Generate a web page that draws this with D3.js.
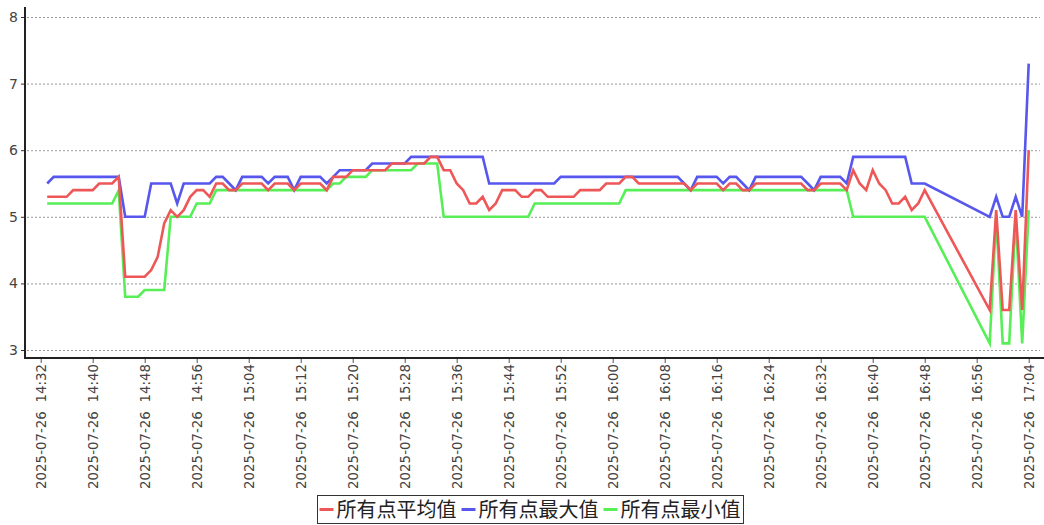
<!DOCTYPE html>
<html><head><meta charset="utf-8">
<script src="https://cdn.jsdelivr.net/npm/d3@7/dist/d3.min.js"></script>
<style>
body{margin:0;background:#fff;}
svg{display:block;}
.xlab{white-space:pre;}
</style>
</head><body>
<svg id="chart" width="1044" height="525"></svg>
<script>
const day = "2025-07-26";
const times = [
"14:33","14:34","14:35","14:36","14:37","14:38","14:39","14:40","14:41","14:42",
"14:43","14:44","14:45","14:46","14:47","14:48","14:49","14:50","14:51","14:52",
"14:53","14:54","14:55","14:56","14:57","14:58","14:59","15:00","15:01","15:02",
"15:03","15:04","15:05","15:06","15:07","15:08","15:09","15:10","15:11","15:12",
"15:13","15:14","15:15","15:16","15:17","15:18","15:19","15:20","15:21","15:22",
"15:23","15:24","15:25","15:26","15:27","15:28","15:29","15:30","15:31","15:32",
"15:33","15:34","15:35","15:36","15:37","15:38","15:39","15:40","15:41","15:42",
"15:43","15:44","15:45","15:46","15:47","15:48","15:49","15:50","15:51","15:52",
"15:53","15:54","15:55","15:56","15:57","15:58","15:59","16:00","16:01","16:02",
"16:03","16:04","16:05","16:06","16:07","16:08","16:09","16:10","16:11","16:12",
"16:13","16:14","16:15","16:16","16:17","16:18","16:19","16:20","16:21","16:22",
"16:23","16:24","16:25","16:26","16:27","16:28","16:29","16:30","16:31","16:32",
"16:33","16:34","16:35","16:36","16:37","16:38","16:39","16:40","16:41","16:42",
"16:43","16:44","16:45","16:46","16:47","16:48",
"16:58","16:59","17:00","17:01","17:02","17:03","17:04"];

const avgValues = [
5.3,5.3,5.3,5.3,5.4,5.4,5.4,5.4,5.5,5.5,
5.5,5.6,4.1,4.1,4.1,4.1,4.2,4.4,4.9,5.1,
5.0,5.1,5.3,5.4,5.4,5.3,5.5,5.5,5.4,5.4,
5.5,5.5,5.5,5.5,5.4,5.5,5.5,5.5,5.4,5.5,
5.5,5.5,5.5,5.4,5.6,5.6,5.6,5.7,5.7,5.7,
5.7,5.7,5.7,5.8,5.8,5.8,5.8,5.8,5.8,5.9,
5.9,5.7,5.7,5.5,5.4,5.2,5.2,5.3,5.1,5.2,
5.4,5.4,5.4,5.3,5.3,5.4,5.4,5.3,5.3,5.3,
5.3,5.3,5.4,5.4,5.4,5.4,5.5,5.5,5.5,5.6,
5.6,5.5,5.5,5.5,5.5,5.5,5.5,5.5,5.5,5.4,
5.5,5.5,5.5,5.5,5.4,5.5,5.5,5.4,5.4,5.5,
5.5,5.5,5.5,5.5,5.5,5.5,5.5,5.4,5.4,5.5,
5.5,5.5,5.5,5.4,5.7,5.5,5.4,5.7,5.5,5.4,
5.2,5.2,5.3,5.1,5.2,5.4,
3.6,5.1,3.6,3.6,5.1,3.6,6.0];

const maxValues = [
5.5,5.6,5.6,5.6,5.6,5.6,5.6,5.6,5.6,5.6,
5.6,5.6,5.0,5.0,5.0,5.0,5.5,5.5,5.5,5.5,
5.2,5.5,5.5,5.5,5.5,5.5,5.6,5.6,5.5,5.4,
5.6,5.6,5.6,5.6,5.5,5.6,5.6,5.6,5.4,5.6,
5.6,5.6,5.6,5.5,5.6,5.7,5.7,5.7,5.7,5.7,
5.8,5.8,5.8,5.8,5.8,5.8,5.9,5.9,5.9,5.9,
5.9,5.9,5.9,5.9,5.9,5.9,5.9,5.9,5.5,5.5,
5.5,5.5,5.5,5.5,5.5,5.5,5.5,5.5,5.5,5.6,
5.6,5.6,5.6,5.6,5.6,5.6,5.6,5.6,5.6,5.6,
5.6,5.6,5.6,5.6,5.6,5.6,5.6,5.6,5.5,5.4,
5.6,5.6,5.6,5.6,5.5,5.6,5.6,5.5,5.4,5.6,
5.6,5.6,5.6,5.6,5.6,5.6,5.6,5.5,5.4,5.6,
5.6,5.6,5.6,5.5,5.9,5.9,5.9,5.9,5.9,5.9,
5.9,5.9,5.9,5.5,5.5,5.5,
5.0,5.3,5.0,5.0,5.3,5.0,7.3];

const minValues = [
5.2,5.2,5.2,5.2,5.2,5.2,5.2,5.2,5.2,5.2,
5.2,5.4,3.8,3.8,3.8,3.9,3.9,3.9,3.9,5.0,
5.0,5.0,5.0,5.2,5.2,5.2,5.4,5.4,5.4,5.4,
5.4,5.4,5.4,5.4,5.4,5.4,5.4,5.4,5.4,5.4,
5.4,5.4,5.4,5.4,5.5,5.5,5.6,5.6,5.6,5.6,
5.7,5.7,5.7,5.7,5.7,5.7,5.7,5.8,5.8,5.8,
5.8,5.0,5.0,5.0,5.0,5.0,5.0,5.0,5.0,5.0,
5.0,5.0,5.0,5.0,5.0,5.2,5.2,5.2,5.2,5.2,
5.2,5.2,5.2,5.2,5.2,5.2,5.2,5.2,5.2,5.4,
5.4,5.4,5.4,5.4,5.4,5.4,5.4,5.4,5.4,5.4,
5.4,5.4,5.4,5.4,5.4,5.4,5.4,5.4,5.4,5.4,
5.4,5.4,5.4,5.4,5.4,5.4,5.4,5.4,5.4,5.4,
5.4,5.4,5.4,5.4,5.0,5.0,5.0,5.0,5.0,5.0,
5.0,5.0,5.0,5.0,5.0,5.0,
3.1,5.0,3.1,3.1,5.0,3.1,5.1];

const seriesNames = ["所有点平均值", "所有点最大值", "所有点最小值"];
const seriesColors = ["#ee5757", "#5757ee", "#57ee57"];
const yTicks = [3, 4, 5, 6, 7, 8];
const xTickLabels = ["14:32","14:40","14:48","14:56","15:04","15:12","15:20","15:28","15:36","15:44",
  "15:52","16:00","16:08","16:16","16:24","16:32","16:40","16:48","16:56","17:04"];

const parse = d3.timeParse("%Y-%m-%d %H:%M");
const dates = times.map(t => parse(day + " " + t));
const tickDates = xTickLabels.map(t => parse(day + " " + t));

const svg = d3.select("#chart");

const x = d3.scaleTime()
  .domain([tickDates[0], tickDates[tickDates.length - 1]])
  .range([40.7, 1028.7]);
const y = d3.scaleLinear().domain([3, 8]).range([350, 17]);

// grid
svg.append("g").selectAll("line").data(yTicks).join("line")
  .attr("x1", 27).attr("x2", 1040)
  .attr("y1", d => y(d) + 0.5).attr("y2", d => y(d) + 0.5)
  .attr("stroke", "#9a9a9a").attr("stroke-width", 1)
  .attr("stroke-dasharray", "2,2");

// y axis
const yAxis = svg.append("g").attr("transform", "translate(25,0)")
  .call(d3.axisLeft(y).tickValues(yTicks).tickFormat(d3.format("d")).tickSize(4).tickPadding(3));
yAxis.select(".domain").remove();
yAxis.selectAll(".tick line").attr("stroke", "#333");
yAxis.selectAll("text").attr("font-family", "DejaVu Sans").attr("font-size", 14).attr("fill", "#444");
svg.append("line").attr("x1", 25).attr("x2", 25).attr("y1", 7).attr("y2", 359)
  .attr("stroke", "#222").attr("stroke-width", 2);

// x axis
const xAxis = svg.append("g").attr("transform", "translate(0,358)")
  .call(d3.axisBottom(x).tickValues(tickDates).tickFormat(d3.timeFormat("%Y-%m-%d  %H:%M")).tickSize(5).tickPadding(3));
xAxis.select(".domain").remove();
xAxis.selectAll(".tick line").attr("stroke", "#555");
xAxis.selectAll("text")
  .attr("class", "xlab")
  .attr("font-family", "DejaVu Sans").attr("font-size", 13.4).attr("fill", "#444")
  .attr("transform", "rotate(-90)")
  .attr("text-anchor", "end")
  .attr("x", -6).attr("y", 0).attr("dy", "0.35em");
svg.append("line").attr("x1", 24).attr("x2", 1044).attr("y1", 358).attr("y2", 358)
  .attr("stroke", "#222").attr("stroke-width", 2);

// lines
const seriesData = [avgValues, maxValues, minValues];
const line = d3.line().x((d, i) => x(dates[i])).y(d => y(d));
const drawOrder = [2, 1, 0];
drawOrder.forEach(k => {
  svg.append("path").datum(seriesData[k])
    .attr("d", line)
    .attr("fill", "none")
    .attr("stroke", seriesColors[k])
    .attr("stroke-width", 2.6)
    .attr("stroke-linejoin", "miter");
});

// legend
const lg = svg.append("g");
lg.append("rect").attr("x", 317.5).attr("y", 495.5).attr("width", 426).attr("height", 28)
  .attr("fill", "#fff").attr("stroke", "#333").attr("stroke-width", 1);
let lx = 319.5;
seriesNames.forEach((n, i) => {
  lg.append("line").attr("x1", lx).attr("x2", lx + 14).attr("y1", 509.5).attr("y2", 509.5)
    .attr("stroke", seriesColors[i]).attr("stroke-width", 3);
  const t = lg.append("text").attr("x", lx + 17).attr("y", 516.5)
    .attr("font-family", "Noto Sans CJK SC").attr("font-size", 20).attr("fill", "#222")
    .text(n);
  lx = lx + 17 + t.node().getComputedTextLength() + 5;
});
</script>
</body></html>
